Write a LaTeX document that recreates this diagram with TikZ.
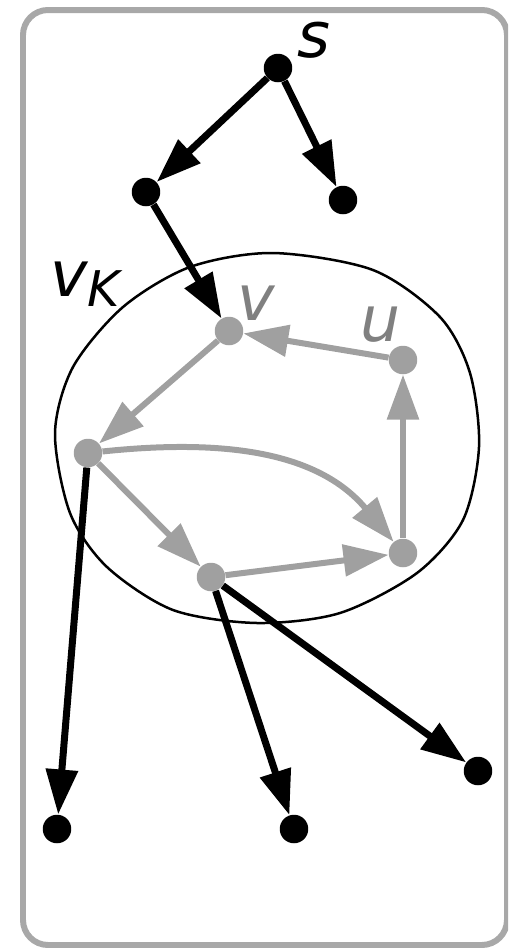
\documentclass[tikz,border=0pt]{standalone}
\usepackage{fontspec}
\setmainfont{DejaVu Sans}
\usetikzlibrary{arrows.meta, calc}

\definecolor{framegray}{HTML}{A8A8A8}
\definecolor{edgegray}{HTML}{A0A0A0}
\definecolor{labelgray}{HTML}{808080}

\tikzset{
  vert/.style={circle, fill=black, inner sep=0pt, minimum size=0.57cm},
  gvert/.style={vert, fill=edgegray},
  bedge/.style={line width=0.14cm, -{Triangle[length=0.9cm, width=0.62cm]}},
  gedge/.style={bedge, edgegray, line width=0.12cm},
  lbl/.style={font=\fontsize{36}{40}\selectfont\itshape, inner sep=0pt},
}

\begin{document}
\begin{tikzpicture}[x=0.02cm, y=-0.02cm, line join=miter]
\useasboundingbox (0,0) rectangle (508,948);
\clip (0,0) rectangle (508,948);

% ---------- frame ----------
\draw[framegray, line width=0.12cm, rounded corners=0.5cm] (23,10) rectangle (507,945);

% ---------- component v_K ----------
\draw[line width=0.05cm] plot[smooth cycle] coordinates
  {(273,253) (373,270) (440,317) (470,373) (479,447) (463,520) (417,573) (340,613)
   (257,623) (173,610) (107,567) (70,513) (55,433) (73,367) (123,307) (190,267)};

% ---------- vertices ----------
\node[vert]  (s)  at (278,68)  {};
\node[vert]  (a)  at (146,192) {};
\node[vert]  (b)  at (343,200) {};
\node[gvert] (v)  at (229,331) {};
\node[gvert] (u)  at (403,360) {};
\node[gvert] (w)  at (88,453)  {};
\node[gvert] (x)  at (211,577) {};
\node[gvert] (y)  at (403,553) {};
\node[vert]  (l1) at (57,829)  {};
\node[vert]  (l2) at (294,829) {};
\node[vert]  (l3) at (478,771) {};

% ---------- labels ----------
\node[lbl] (slbl)  at (314,40)  {s};
\node[lbl, labelgray] (vlbl) at (256,303) {v};
\node[lbl, labelgray] (ulbl) at (381,325) {u};
\node[lbl, anchor=base west] (vklbl) at (50,296)
  {v\raisebox{-6pt}{\fontsize{28}{30}\selectfont K}};

% ---------- edges outside the component ----------
\draw[bedge] (s) -- (a);
\draw[bedge] (s) -- (b);
\draw[bedge] (a) -- (v);
\draw[bedge] (w) -- (l1);
\draw[bedge] (x) -- (l2);
\draw[bedge] (x) -- (l3);

% ---------- edges inside the component ----------
\draw[gedge] (v) -- (w);
\draw[gedge] (w) to[out=6, in=130] (y);
\draw[gedge] (w) -- (x);
\draw[gedge] (x) -- (y);
\draw[gedge] (y) -- (u);
\draw[gedge] (u) -- (v);

\end{tikzpicture}
\end{document}
